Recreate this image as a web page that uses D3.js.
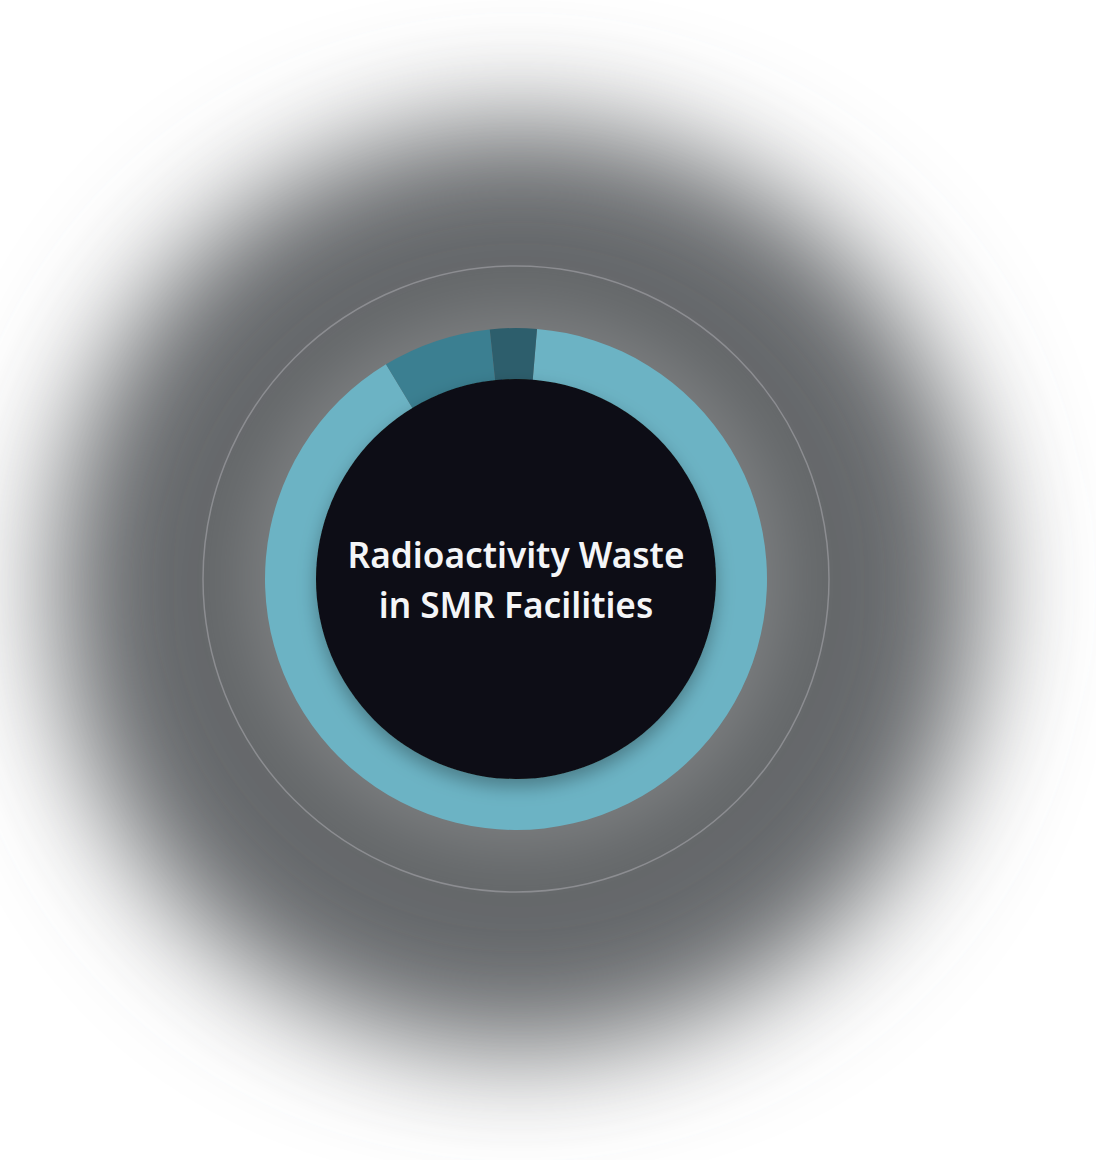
<!DOCTYPE html>
<html>
<head>
<meta charset="utf-8">
<script src="https://cdn.jsdelivr.net/npm/d3@7"></script>
<style>
  html, body { margin: 0; padding: 0; background: #ffffff; }
  svg { display: block; }
</style>
</head>
<body>
<div id="chart"></div>
<script>
// waste share by category (percent), clockwise from the top
var categories = ["Low-level waste", "Intermediate-level waste", "High-level waste"];
var shares = [90, 7, 3];
var sliceColors = ["#6cb3c4", "#3b7f91", "#2d5e6c"];
var titleLines = ["Radioactivity Waste", "in SMR Facilities"];

var width = 1096, height = 1160
  , cx = 516, cy = 579
  , outerR = 251, innerR = 200, guideR = 313
  , startDeg = 4.8;

var data = categories.map(function(c, i) { return {category: c, value: shares[i], color: sliceColors[i]}; });

var svg = d3.select("#chart").append("svg")
    .attr("width", width)
    .attr("height", height);

var defs = svg.append("defs");

defs.append("filter").attr("id", "bgBlur")
    .attr("x", "-50%").attr("y", "-50%").attr("width", "200%").attr("height", "200%")
  .append("feGaussianBlur").attr("stdDeviation", 58);

defs.append("filter").attr("id", "glow")
    .attr("x", "-50%").attr("y", "-50%").attr("width", "200%").attr("height", "200%")
  .append("feGaussianBlur").attr("stdDeviation", 28);

var shadow = defs.append("filter").attr("id", "innerShadow")
    .attr("x", "-30%").attr("y", "-30%").attr("width", "160%").attr("height", "160%");
shadow.append("feDropShadow")
    .attr("dx", 0).attr("dy", 8)
    .attr("stdDeviation", 9)
    .attr("flood-color", "#000")
    .attr("flood-opacity", 0.3);

// soft grey halo behind everything
svg.append("circle")
    .attr("cx", cx + 3).attr("cy", cy + 8)
    .attr("r", 462)
    .attr("fill", "#65676b")
    .attr("filter", "url(#bgBlur)");

// light glow around the ring
svg.append("circle")
    .attr("cx", cx).attr("cy", cy)
    .attr("r", outerR + 20)
    .attr("fill", "#ffffff")
    .attr("opacity", 0.14)
    .attr("filter", "url(#glow)");

// thin guide ring
svg.append("circle")
    .attr("cx", cx).attr("cy", cy)
    .attr("r", guideR)
    .attr("fill", "none")
    .attr("stroke", "#8c8d91")
    .attr("stroke-width", 1.5);

var pie = d3.pie()
    .sort(null)
    .value(function(d) { return d.value; })
    .startAngle(startDeg * Math.PI / 180)
    .endAngle(startDeg * Math.PI / 180 + 2 * Math.PI);

var arc = d3.arc()
    .innerRadius(innerR - 2)
    .outerRadius(outerR);

var g = svg.append("g")
    .attr("transform", "translate(" + cx + "," + cy + ")");

g.selectAll("path.slice")
    .data(pie(data))
    .enter()
    .append("path")
      .attr("class", "slice")
      .attr("d", arc)
      .attr("fill", function(d) { return d.data.color; });

// dark centre disc
g.append("circle")
    .attr("r", innerR)
    .attr("fill", "#101113")
    .attr("filter", "url(#innerShadow)");

g.selectAll("text.title")
    .data(titleLines)
    .enter()
    .append("text")
      .attr("class", "title")
      .attr("x", 0)
      .attr("y", function(d, i) { return -11 + i * 49.5; })
      .attr("text-anchor", "middle")
      .style("font-family", "'Noto Sans', 'Open Sans', sans-serif")
      .style("font-weight", 600)
      .style("font-size", "35.2px")
      .style("fill", "#f4f5f7")
      .text(function(d) { return d; });
</script>
</body>
</html>
